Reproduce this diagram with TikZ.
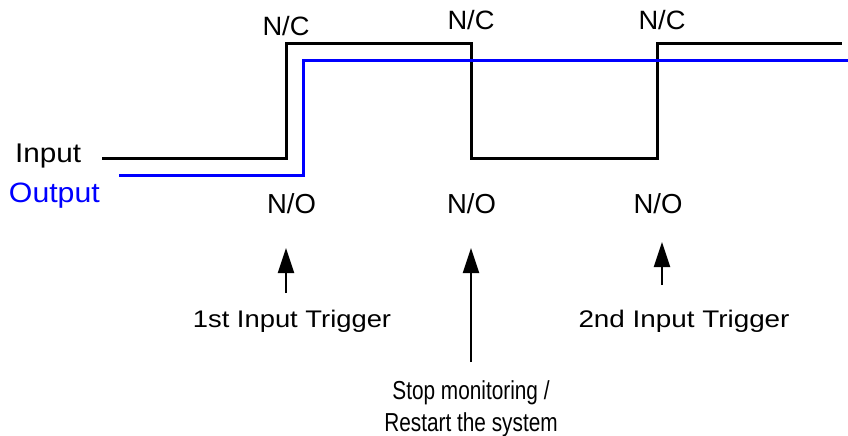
\documentclass[tikz,border=0pt]{standalone}
\usepackage{fontspec}
\setmainfont{Liberation Sans}
\usetikzlibrary{arrows.meta}
\definecolor{outblue}{RGB}{0,0,255}
\tikzset{
  wave/.style={line width=3pt, line join=miter, line cap=butt},
  trig/.style={line width=2pt, -{Triangle[length=25pt,width=16pt]}},
  lbl/.style={inner sep=0pt, outer sep=0pt},
}
\begin{document}
\begin{tikzpicture}[x=1pt,y=-1pt]
\useasboundingbox (0,0) rectangle (848,436);
% waveforms
\draw[wave] (102,158) -- (286,158) -- (286,44) -- (471,44) -- (471,158) -- (657,158) -- (657,44) -- (842,44);
\draw[wave, outblue] (119,175) -- (303,175) -- (303,61) -- (848,61);
% side labels
\node[lbl, anchor=base west, font=\fontsize{27}{32}\selectfont] (in) at (15,162) {\scalebox{1.10}[1]{Input}};
\node[lbl, anchor=base west, text=outblue, font=\fontsize{28}{32}\selectfont] (out) at (9,202) {\scalebox{1.08}[1]{Output}};
% N/C labels
\node[lbl, anchor=base, font=\fontsize{26.5}{32}\selectfont] (nc1) at (286,36) {\scalebox{1.03}[1]{N/C}};
\node[lbl, anchor=base, font=\fontsize{26.5}{32}\selectfont] (nc2) at (471,30) {\scalebox{1.03}[1]{N/C}};
\node[lbl, anchor=base, font=\fontsize{26.5}{32}\selectfont] (nc3) at (662,30) {\scalebox{1.03}[1]{N/C}};
% N/O labels
\node[lbl, anchor=base, font=\fontsize{27.5}{32}\selectfont] (no1) at (291.5,213) {N/O};
\node[lbl, anchor=base, font=\fontsize{27.5}{32}\selectfont] (no2) at (471.5,213) {N/O};
\node[lbl, anchor=base, font=\fontsize{27.5}{32}\selectfont] (no3) at (658,213) {N/O};
% trigger labels
\node[lbl, anchor=base, font=\fontsize{24}{32}\selectfont] (t1) at (292,327) {\scalebox{1.14}[1]{1st Input Trigger}};
\node[lbl, anchor=base, font=\fontsize{24}{32}\selectfont] (t2) at (684,327) {\scalebox{1.16}[1]{2nd Input Trigger}};
\node[lbl, anchor=base, align=center, font=\fontsize{26}{32}\selectfont] (t3) at (471,431) {\scalebox{0.8}[1]{Stop monitoring /}\\\scalebox{0.8}[1]{Restart the system}};
% arrows
\coordinate (a1s) at (286,293);
\coordinate (a1e) at (286,248);
\coordinate (a2s) at (471,362);
\coordinate (a2e) at (471,248);
\coordinate (a3s) at (662,285);
\coordinate (a3e) at (662,242);
\draw[trig] (a1s) -- (a1e);
\draw[trig] (a2s) -- (a2e);
\draw[trig] (a3s) -- (a3e);
\end{tikzpicture}
\end{document}
